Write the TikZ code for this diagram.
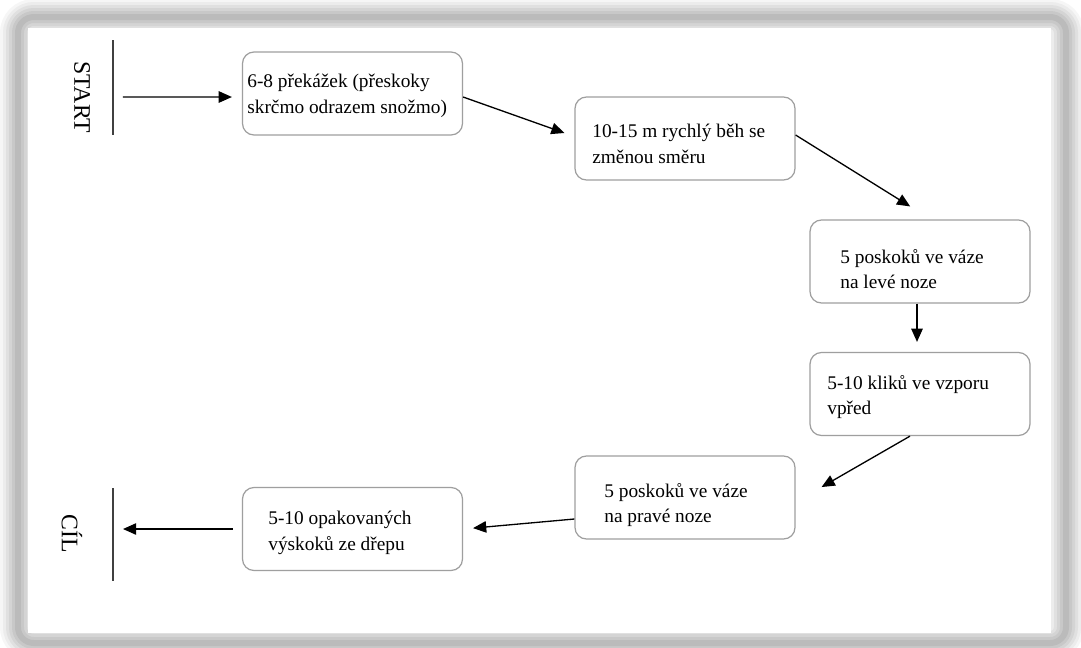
\documentclass[tikz,border=0pt]{standalone}
\usepackage{fontspec}
\setmainfont{Liberation Serif}
\usetikzlibrary{arrows.meta}
\tikzset{
  stepbox/.style={draw=gray!75, line width=0.7pt, rounded corners=6.5pt,
    minimum width=4.4cm, minimum height=1.66cm, inner sep=0pt},
  steptext/.style={anchor=west, align=left, inner sep=0pt,
    font=\fontsize{11}{14.7}\selectfont},
  flow/.style={-{Triangle[length=7.5pt,width=6.5pt]}, line width=0.75pt},
  bar/.style={line width=0.8pt, black!75},
  endlabel/.style={rotate=-90, inner sep=0pt, font=\fontsize{13.5}{16}\selectfont}
}
\begin{document}
\begin{tikzpicture}[x=0.02cm, y=-0.02cm]
            \useasboundingbox (0,0) rectangle (1081,647);
            % soft frame
            \foreach \w/\o in {0.72cm/0.035,0.6cm/0.04,0.48cm/0.05,0.36cm/0.055,0.24cm/0.06,0.12cm/0.065}{
            \draw[line width=\w, black, opacity=\o, rounded corners=9pt](18,17) rectangle (1066,643);
            }
            \fill[white](28,28) rectangle (1051,633);

            \foreach \n/\x/\y in {hurdles/352.5/93.5, sprint/685/138.5, leftleg/920/261.5,
              pushups/920/394, rightleg/685/497.5, squatjumps/352.5/529}{
            \node[stepbox] (\n) at (\x,\y) {};
            }
            \node[steptext] (hurdlestxt) at (247,96) {6-8 překážek (přeskoky\\skrčmo odrazem snožmo)};
            \node[steptext] (sprinttxt) at (592,144) {10-15 m rychlý běh se\\změnou směru};
            \node[steptext] (leftlegtxt) at (840,269) {5 poskoků ve váze\\na levé noze};
            \node[steptext] (pushupstxt) at (827,397) {5-10 kliků ve vzporu\\vpřed};
            \node[steptext] (rightlegtxt) at (604,505) {5 poskoků ve váze\\na pravé noze};
            \node[steptext] (squatjumpstxt) at (268,533) {5-10 opakovaných\\výskoků ze dřepu};

            \node[endlabel] (start) at (82,97) {START};
            \node[endlabel] (finish) at (72,534) {CÍL};
            \coordinate (startbar) at (113,97);
            \coordinate (finishbar) at (113,529);
            \draw[bar](113,40)--(113,135);
            \draw[bar](113,488)--(113,581);

            \draw[flow, shorten <=0.2cm, shorten >=0.2cm](startbar)--([yshift=-0.07cm]hurdles.west);
            \draw[flow, shorten >=0.21cm]([yshift=-0.07cm]hurdles.east)--([yshift=0.04cm]sprint.west);
            \draw[flow, shorten >=0.49cm]([yshift=0.07cm]sprint.east)--([xshift=0.22cm]leftleg.north);
            \draw[flow, shorten >=0.2cm]([xshift=-0.06cm]leftleg.south)--([xshift=-0.06cm]pushups.north);
            \draw[flow, shorten >=0.6cm]([xshift=-0.2cm]pushups.south)--([yshift=-0.09cm]rightleg.east);
            \draw[flow, shorten >=0.2cm]([yshift=-0.43cm]rightleg.west)--(squatjumps.east);
            \draw[flow, shorten <=0.18cm, shorten >=0.2cm](squatjumps.west)--(finishbar);

        \end{tikzpicture}
\end{document}
